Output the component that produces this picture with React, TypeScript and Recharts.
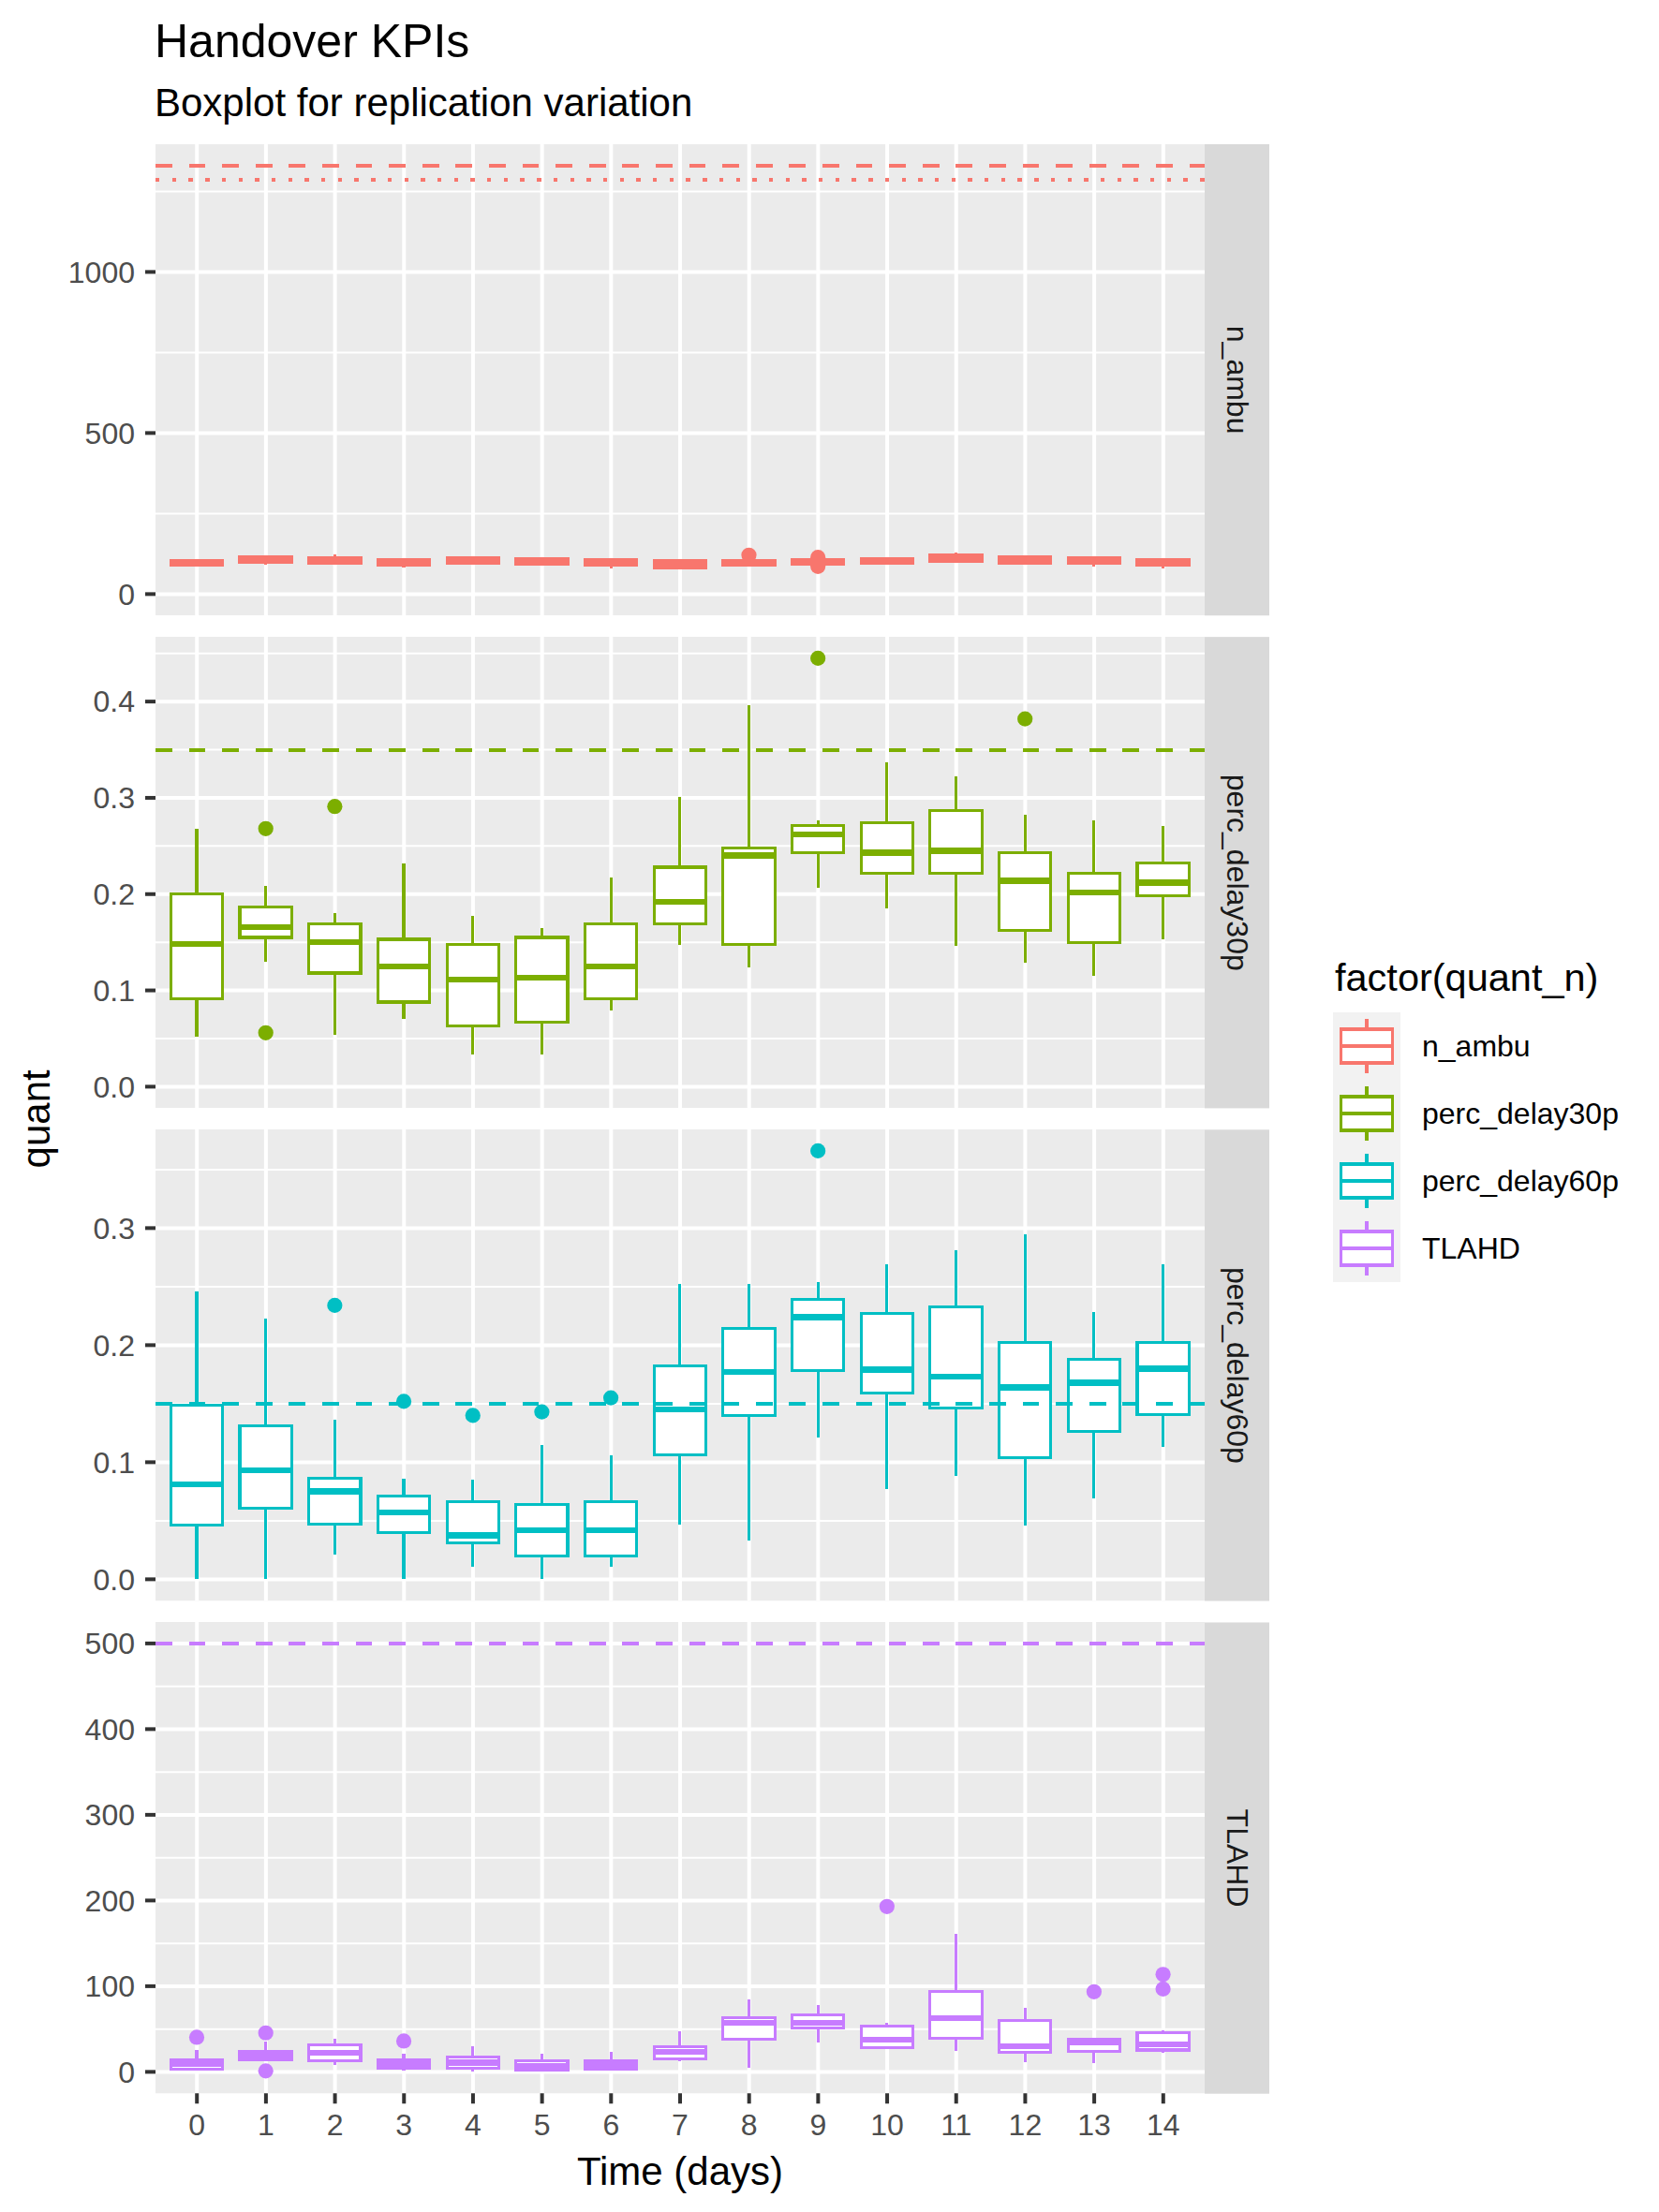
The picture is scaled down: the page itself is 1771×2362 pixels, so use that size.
import React from 'react';
import { ComposedChart, Bar, XAxis, YAxis, CartesianGrid, ReferenceLine } from 'recharts';

const FONT = '"Liberation Sans", Arial, Helvetica, sans-serif';

// ---------- data ----------
const days = ['0', '1', '2', '3', '4', '5', '6', '7', '8', '9', '10', '11', '12', '13', '14'];
const seriesNames = ['n_ambu', 'perc_delay30p', 'perc_delay60p', 'TLAHD'];
const seriesColors = ['#F8766D', '#7CAE00', '#00BFC4', '#C77CFF'];

// [min, q1, median, q3, max] per day
const nAmbuStats = [
  [87, 89, 96, 103, 105], [92, 98, 107, 115, 116], [93, 95, 104, 112, 122], [82, 89, 98, 106, 113],
  [95, 97, 105, 112, 113], [90, 92, 101, 109, 110], [79, 89, 98, 106, 107], [80, 82, 93, 103, 104],
  [87, 89, 97, 103, 104], [93, 94, 100, 106, 107], [93, 95, 102, 109, 110], [97, 103, 112, 121, 128],
  [93, 95, 106, 115, 116], [84, 95, 104, 112, 112], [79, 89, 98, 106, 107],
];
const nAmbuOutliers = [[], [], [], [], [], [], [], [], [121], [114, 86], [], [], [], [], []];

const delay30Stats = [
  [0.052, 0.091, 0.148, 0.2, 0.268], [0.13, 0.155, 0.166, 0.187, 0.209], [0.054, 0.118, 0.15, 0.169, 0.18],
  [0.07, 0.088, 0.125, 0.153, 0.232], [0.033, 0.063, 0.111, 0.148, 0.177], [0.033, 0.067, 0.113, 0.155, 0.165],
  [0.079, 0.091, 0.125, 0.169, 0.217], [0.147, 0.169, 0.192, 0.228, 0.301], [0.124, 0.148, 0.24, 0.248, 0.396],
  [0.207, 0.243, 0.262, 0.271, 0.277], [0.185, 0.222, 0.243, 0.274, 0.337], [0.146, 0.222, 0.245, 0.287, 0.322],
  [0.129, 0.162, 0.214, 0.243, 0.282], [0.115, 0.15, 0.202, 0.222, 0.277], [0.153, 0.198, 0.212, 0.232, 0.271],
];
const delay30Outliers = [[], [0.268, 0.056], [0.291], [], [], [], [], [], [], [0.445], [], [], [0.382], [], []];

const delay60Stats = [
  [0.0, 0.046, 0.081, 0.149, 0.246], [0.0, 0.061, 0.093, 0.131, 0.223], [0.0215, 0.047, 0.075, 0.086, 0.136],
  [0.0, 0.04, 0.057, 0.071, 0.086], [0.0105, 0.031, 0.0375, 0.066, 0.085], [0.0, 0.02, 0.042, 0.064, 0.115],
  [0.011, 0.0196, 0.042, 0.066, 0.106], [0.047, 0.106, 0.145, 0.182, 0.252], [0.033, 0.14, 0.177, 0.214, 0.252],
  [0.121, 0.178, 0.224, 0.239, 0.254], [0.077, 0.159, 0.179, 0.227, 0.269], [0.088, 0.146, 0.173, 0.233, 0.281],
  [0.046, 0.104, 0.164, 0.202, 0.295], [0.069, 0.126, 0.168, 0.188, 0.228], [0.113, 0.141, 0.18, 0.202, 0.269],
];
const delay60Outliers = [[], [], [0.234], [0.152], [0.14], [0.143], [0.155], [], [], [0.366], [], [], [], [], []];

const tlahdStats = [
  [1, 3.5, 9, 14.4, 25.8], [14.4, 14.4, 19, 24.2, 35.7], [8.4, 13.3, 22, 31.8, 39], [1.8, 4.6, 9, 14.4, 21.5],
  [0.8, 4.6, 11, 17.7, 30.2], [2, 2.4, 7, 13.3, 21.5], [2, 3.5, 8, 13.3, 23.7], [12.8, 15.5, 23.3, 29.7, 47.6],
  [5.1, 37.8, 57.5, 63.5, 84.7], [34.6, 51, 57.5, 66.2, 78.2], [28, 28, 37.8, 53, 57.5], [24, 39.1, 63, 93.5, 161],
  [11.7, 22.6, 30.2, 59.6, 75], [10.6, 23.7, 34, 38.4, 38.4], [22.6, 25.5, 32, 45.5, 48.7],
];
const tlahdOutliers = [[40.4], [45.5, 1.1], [], [36], [], [], [], [], [], [], [193], [], [], [93.5], [113.8, 96.7]];

const nAmbuTicks = [0, 500, 1000];
const nAmbuMinor = [250, 750, 1250];
const delay30Ticks = [0, 0.1, 0.2, 0.3, 0.4];
const delay30Minor = [0.05, 0.15, 0.25, 0.35, 0.45];
const delay60Ticks = [0, 0.1, 0.2, 0.3];
const delay60Minor = [0.05, 0.15, 0.25, 0.35];
const tlahdTicks = [0, 100, 200, 300, 400, 500];
const tlahdMinor = [50, 150, 250, 350, 450];

const nAmbuRefs = [{ v: 1330, type: 'dashed' }, { v: 1285, type: 'dotted' }];
const delay30Refs = [{ v: 0.35, type: 'dashed' }];
const delay60Refs = [{ v: 0.15, type: 'dashed' }];
const tlahdRefs = [{ v: 500, type: 'dashed' }];

const fmtInt = (v: number) => String(v);
const fmt1 = (v: number) => v.toFixed(1);

const panels = [
  { stats: nAmbuStats, outliers: nAmbuOutliers, ticks: nAmbuTicks, minor: nAmbuMinor, refs: nAmbuRefs, fmt: fmtInt },
  { stats: delay30Stats, outliers: delay30Outliers, ticks: delay30Ticks, minor: delay30Minor, refs: delay30Refs, fmt: fmt1 },
  { stats: delay60Stats, outliers: delay60Outliers, ticks: delay60Ticks, minor: delay60Minor, refs: delay60Refs, fmt: fmt1 },
  { stats: tlahdStats, outliers: tlahdOutliers, ticks: tlahdTicks, minor: tlahdMinor, refs: tlahdRefs, fmt: fmtInt },
];

// ---------- layout ----------
const PAGE_W = 1771;
const PAGE_H = 2362;
const PLOT_LEFT = 166;
const PLOT_RIGHT = 1286;
const PANEL_TOP = 154;
const PANEL_H = 503.25;
const PANEL_GAP = 22.9;
const STRIP_W = 69;
const XAXIS_H = 100;
const panelTop = (i: number) => PANEL_TOP + i * (PANEL_H + PANEL_GAP);

const BAND = (PLOT_RIGHT - PLOT_LEFT) / (days.length + 0.2);
const XPAD = 0.1 * BAND;
const BOX_W = 0.75 * BAND;

const LINE_W = 3.2;
const DASHES: Record<string, string> = { dashed: '17.8 17.8', dotted: '4.4 13.3' };

type Row = { day: string; range: number[]; stats: number[]; outliers: number[] };

const makeBoxShape = (color: string, rows: Row[]) => (props: any) => {
  const { x, y, width, height, index } = props;
  const row: Row = props.payload && props.payload.stats ? props.payload : rows[index];
  if (!row || x == null || y == null) return <g />;
  const [mn, q1, md, q3, mx] = row.stats;
  const yMax = y;
  const yMin = y + height;
  const toY = (v: number) => (mx === mn ? yMin : yMin + ((v - mn) / (mx - mn)) * (yMax - yMin));
  const cx = x + width / 2;
  return (
    <g>
      {row.outliers.map((o, k) => (
        <circle key={k} cx={cx} cy={toY(o)} r={8.1} fill={color} />
      ))}
      <g shapeRendering="crispEdges">
        <line x1={cx} x2={cx} y1={toY(q3)} y2={toY(mx)} stroke={color} strokeWidth={LINE_W} />
        <line x1={cx} x2={cx} y1={toY(q1)} y2={toY(mn)} stroke={color} strokeWidth={LINE_W} />
        <rect x={x} y={toY(q3)} width={width} height={toY(q1) - toY(q3)} fill="#FFFFFF" stroke={color} strokeWidth={LINE_W} />
        <line x1={x} x2={x + width} y1={toY(md)} y2={toY(md)} stroke={color} strokeWidth={LINE_W * 2} />
      </g>
    </g>
  );
};

function Panel({ idx, isBottom }: { idx: number; isBottom: boolean }) {
  const p = panels[idx];
  const color = seriesColors[idx];
  const rows: Row[] = days.map((d, i) => ({
    day: d,
    range: [p.stats[i][0], p.stats[i][4]],
    stats: p.stats[i],
    outliers: p.outliers[i],
  }));
  const allVals: number[] = [0];
  p.stats.forEach((s) => allVals.push(...s));
  p.outliers.forEach((o) => allVals.push(...o));
  p.refs.forEach((r) => allVals.push(r.v));
  const lo = Math.min(...allVals);
  const hi = Math.max(...allVals);
  const span = hi - lo;
  const domain = [lo - 0.05 * span, hi + 0.05 * span];

  return (
    <ComposedChart
      width={PLOT_RIGHT}
      height={PANEL_H + (isBottom ? XAXIS_H : 0)}
      data={rows}
      margin={{ top: 0, right: 0, bottom: 0, left: 0 }}
    >
      <CartesianGrid
        vertical={false}
        yAxisId="minor"
        syncWithTicks
        stroke="#FFFFFF"
        strokeWidth={2}
        fill="#EBEBEB"
        fillOpacity={1}
      />
      <CartesianGrid syncWithTicks yAxisId="major" stroke="#FFFFFF" strokeWidth={4} />
      <XAxis
        dataKey="day"
        type="category"
        hide={!isBottom}
        padding={{ left: XPAD, right: XPAD }}
        height={XAXIS_H}
        interval={0}
        axisLine={false}
        tickSize={11}
        tickMargin={11}
        tickLine={{ stroke: '#333333', strokeWidth: 4 }}
        tick={{ fill: '#4D4D4D', fontSize: 32, fontFamily: FONT }}
      />
      <YAxis
        yAxisId="major"
        type="number"
        domain={domain}
        ticks={p.ticks}
        allowDataOverflow
        interval={0}
        width={PLOT_LEFT}
        axisLine={false}
        tickSize={11}
        tickMargin={11}
        tickLine={{ stroke: '#333333', strokeWidth: 4 }}
        tick={{ fill: '#4D4D4D', fontSize: 32, fontFamily: FONT }}
        tickFormatter={p.fmt}
      />
      <YAxis
        yAxisId="minor"
        type="number"
        domain={domain}
        ticks={p.minor}
        allowDataOverflow
        interval={0}
        hide
      />
      <Bar
        yAxisId="major"
        dataKey="range"
        barSize={BOX_W}
        shape={makeBoxShape(color, rows)}
        isAnimationActive={false}
      />
      {p.refs.map((r, k) => (
        <ReferenceLine
          key={k}
          yAxisId="major"
          y={r.v}
          stroke={color}
          strokeWidth={4}
          strokeDasharray={DASHES[r.type]}
          shapeRendering="crispEdges"
        />
      ))}
    </ComposedChart>
  );
}

export default function App() {
  const keyTop = 1081;
  const keySize = 72;
  return (
    <div
      style={{
        position: 'absolute',
        left: 0,
        top: 0,
        width: PAGE_W,
        height: PAGE_H,
        background: '#FFFFFF',
        fontFamily: FONT,
        overflow: 'hidden',
      }}
    >
      {panels.map((_, i) => (
        <div key={i} style={{ position: 'absolute', left: 0, top: panelTop(i) }}>
          <Panel idx={i} isBottom={i === panels.length - 1} />
        </div>
      ))}
      <svg
        width={PAGE_W}
        height={PAGE_H}
        style={{ position: 'absolute', left: 0, top: 0, pointerEvents: 'none' }}
        fontFamily={FONT}
      >
        <text x={165} y={60.7} fontSize={50} fill="#000000">
          Handover KPIs
        </text>
        <text x={165} y={123.5} fontSize={42} fill="#000000">
          Boxplot for replication variation
        </text>
        <text
          transform={`translate(53.3, ${(PANEL_TOP + panelTop(3) + PANEL_H) / 2}) rotate(-90)`}
          textAnchor="middle"
          fontSize={42}
          fill="#000000"
        >
          quant
        </text>
        <text x={(PLOT_LEFT + PLOT_RIGHT) / 2} y={2333} textAnchor="middle" fontSize={42} fill="#000000">
          Time (days)
        </text>
        {seriesNames.map((name, i) => (
          <g key={name}>
            <rect x={PLOT_RIGHT} y={panelTop(i)} width={STRIP_W} height={PANEL_H} fill="#D9D9D9" />
            <text
              transform={`translate(${PLOT_RIGHT + STRIP_W / 2}, ${panelTop(i) + PANEL_H / 2}) rotate(90)`}
              textAnchor="middle"
              dominantBaseline="central"
              fontSize={32}
              fill="#1A1A1A"
            >
              {name}
            </text>
          </g>
        ))}
        <text x={1425} y={1058} fontSize={41.5} fill="#000000">
          factor(quant_n)
        </text>
        {seriesNames.map((name, i) => {
          const y0 = keyTop + i * keySize;
          const c = seriesColors[i];
          const kx = 1423;
          const cx = kx + keySize / 2;
          return (
            <g key={name}>
              <rect x={kx} y={y0} width={keySize} height={keySize} fill="#F2F2F2" />
              <g shapeRendering="crispEdges">
                <line x1={cx} x2={cx} y1={y0 + 7.2} y2={y0 + 18} stroke={c} strokeWidth={LINE_W} />
                <line x1={cx} x2={cx} y1={y0 + 54} y2={y0 + 64.8} stroke={c} strokeWidth={LINE_W} />
                <rect x={kx + 8.5} y={y0 + 18} width={keySize - 17} height={36} fill="#FFFFFF" stroke={c} strokeWidth={LINE_W} />
                <line x1={kx + 8.5} x2={kx + keySize - 8.5} y1={y0 + 36} y2={y0 + 36} stroke={c} strokeWidth={LINE_W} />
              </g>
              <text x={1518} y={y0 + 36} dominantBaseline="central" fontSize={32} fill="#000000">
                {name}
              </text>
            </g>
          );
        })}
      </svg>
    </div>
  );
}
